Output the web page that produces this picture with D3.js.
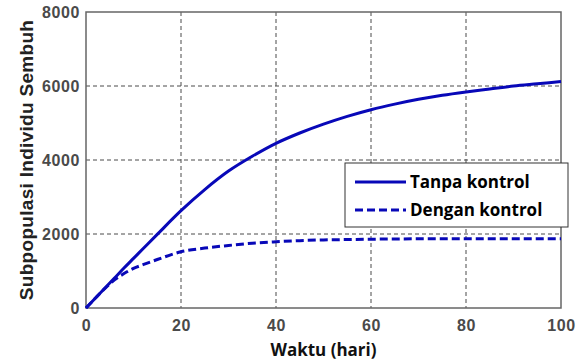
<!DOCTYPE html>
<html>
<head>
<meta charset="utf-8">
<script src="https://cdn.jsdelivr.net/npm/d3@7"></script>
<style>
  html, body { margin: 0; padding: 0; background: #fff; }
  svg { display: block; }
</style>
</head>
<body>
<script>
// Time axis (days) and the two recovered-subpopulation trajectories
const timeDays = [0, 2, 4, 6, 8, 10, 12, 15, 20, 25, 30, 35, 40, 45, 50, 55, 60, 65, 70, 75, 80, 85, 90, 95, 100];
const tanpaKontrol = [0, 270, 540, 810, 1080, 1340, 1600, 1990, 2630, 3200, 3700, 4100, 4450, 4730, 4970, 5180, 5360, 5510, 5640, 5750, 5840, 5920, 6000, 6060, 6120];
const denganKontrol = [0, 270, 530, 760, 930, 1070, 1170, 1310, 1520, 1620, 1690, 1750, 1790, 1820, 1840, 1850, 1860, 1865, 1870, 1870, 1870, 1870, 1870, 1870, 1870];
const xTicks = [0, 20, 40, 60, 80, 100];
const yTicks = [0, 2000, 4000, 6000, 8000];
const seriesNames = ["Tanpa kontrol", "Dengan kontrol"];

const W = 576, H = 361;
const plot = { left: 86, right: 561, top: 12, bottom: 308 };
const blue = "#0808b8";

const svg = d3.select("body").append("svg").attr("width", W).attr("height", H);

const x = d3.scaleLinear().domain([0, 100]).range([plot.left, plot.right]);
const y = d3.scaleLinear().domain([0, 8000]).range([plot.bottom, plot.top]);

// Dashed grid
const grid = svg.append("g").attr("stroke", "#4a4a4a").attr("stroke-width", 1).attr("stroke-dasharray", "4,3");
grid.selectAll("line.v").data(xTicks.slice(1, -1)).join("line")
  .attr("x1", d => x(d)).attr("x2", d => x(d))
  .attr("y1", plot.top).attr("y2", plot.bottom);
grid.selectAll("line.h").data(yTicks.slice(1, -1)).join("line")
  .attr("y1", d => y(d)).attr("y2", d => y(d))
  .attr("x1", plot.left).attr("x2", plot.right);

// Axes with bold grey tick labels
const tickFont = "bold 16px 'Liberation Sans', Arial, sans-serif";
const xAxis = svg.append("g").attr("transform", `translate(0,${plot.bottom})`)
  .call(d3.axisBottom(x).tickValues(xTicks).tickSize(0).tickPadding(12));
const yAxis = svg.append("g").attr("transform", `translate(${plot.left},0)`)
  .call(d3.axisLeft(y).tickValues(yTicks).tickSize(0).tickPadding(6).tickFormat(d3.format("d")));
[xAxis, yAxis].forEach(a => {
  a.select(".domain").remove();
  a.selectAll("text").style("font", tickFont).attr("fill", "#4a4a4a").style("letter-spacing", "0.6px");
});

// Frame
svg.append("rect")
  .attr("x", plot.left).attr("y", plot.top)
  .attr("width", plot.right - plot.left).attr("height", plot.bottom - plot.top)
  .attr("fill", "none").attr("stroke", "#666").attr("stroke-width", 1.5);

// Curves
const line = vals => d3.line().x((d, i) => x(timeDays[i])).y(d => y(d)).curve(d3.curveMonotoneX)(vals);
svg.append("path").attr("d", line(tanpaKontrol))
  .attr("fill", "none").attr("stroke", blue).attr("stroke-width", 3);
svg.append("path").attr("d", line(denganKontrol))
  .attr("fill", "none").attr("stroke", blue).attr("stroke-width", 3).attr("stroke-dasharray", "8,4");

// Axis titles
svg.append("text").attr("x", (plot.left + plot.right) / 2).attr("y", 356)
  .attr("text-anchor", "middle")
  .style("font", "bold 17px 'Open Sans', sans-serif").attr("fill", "#111")
  .text("Waktu (hari)");
svg.append("text")
  .attr("transform", `translate(33,${(plot.top + plot.bottom) / 2}) rotate(-90)`)
  .attr("text-anchor", "middle")
  .style("font", "bold 19px 'Liberation Sans', Arial, sans-serif").attr("fill", "#222")
  .style("letter-spacing", "0.3px")
  .text("Subpopulasi Individu Sembuh");

// Legend
const lg = svg.append("g");
lg.append("rect").attr("x", 345).attr("y", 163).attr("width", 223).attr("height", 64)
  .attr("fill", "#fff").attr("stroke", "#333").attr("stroke-width", 1);
const rows = [
  { name: seriesNames[0], dash: null, y: 182 },
  { name: seriesNames[1], dash: "8,4", y: 210 }
];
rows.forEach(r => {
  lg.append("line").attr("x1", 355).attr("x2", 406).attr("y1", r.y).attr("y2", r.y)
    .attr("stroke", blue).attr("stroke-width", 3).attr("stroke-dasharray", r.dash);
  lg.append("text").attr("x", 410).attr("y", r.y).attr("dy", "0.35em")
    .style("font", "bold 17px 'Open Sans', sans-serif").attr("fill", "#000")
    .text(r.name);
});
</script>
</body>
</html>
